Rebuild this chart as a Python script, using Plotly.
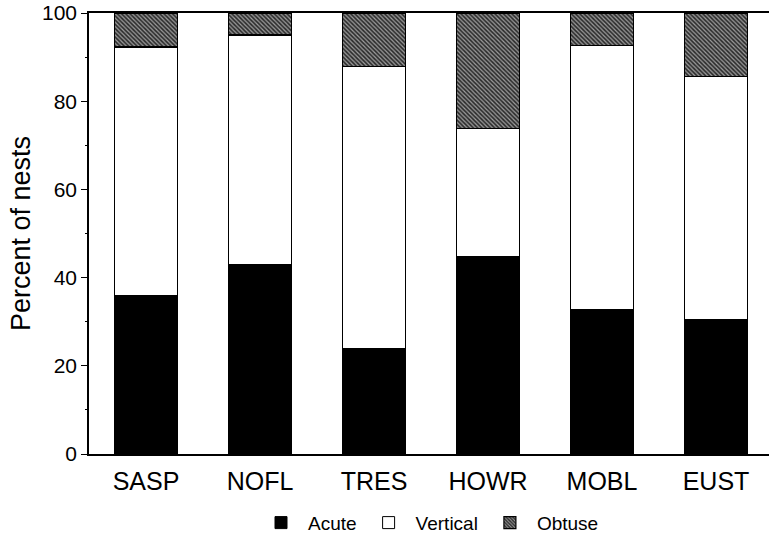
import plotly.graph_objects as go

species = ["SASP", "NOFL", "TRES", "HOWR", "MOBL", "EUST"]
acute = [36, 43, 24, 44.7, 32.8, 30.5]
vertical = [56.3, 52, 63.9, 29.1, 59.9, 55.1]
obtuse = [7.7, 5, 12.1, 26.2, 7.3, 14.4]
y_ticks = [0, 20, 40, 60, 80, 100]

xpos = list(range(len(species)))
bounds = [i - 0.5 for i in range(len(species) + 1)]
xr = [-0.5, 5.465]
font = "Liberation Sans, Arial, sans-serif"

fig = go.Figure()
fig.add_trace(go.Bar(x=xpos, y=acute, name="Acute", width=0.55,
                     marker=dict(color="black", line=dict(color="black", width=1))))
fig.add_trace(go.Bar(x=xpos, y=vertical, name="Vertical", width=0.55,
                     marker=dict(color="white", line=dict(color="black", width=1))))
fig.add_trace(go.Bar(x=xpos, y=obtuse, name="Obtuse", width=0.55,
                     marker=dict(color="#444444", line=dict(color="black", width=1.2),
                                 pattern=dict(shape="\\", bgcolor="#2e2e2e", fgcolor="#a0a0a0",
                                              size=3, solidity=0.4, fillmode="replace"))))

fig.update_layout(
    width=769, height=542,
    margin=dict(l=89, r=0, t=13, b=88),
    barmode="stack",
    plot_bgcolor="white", paper_bgcolor="white",
    font=dict(family=font, color="black"),
    showlegend=True,
    legend=dict(orientation="h", x=0.5, xanchor="center", y=-0.199, yanchor="bottom",
                font=dict(size=19, family=font), itemwidth=44, traceorder="normal"),
    xaxis=dict(range=xr, tickvals=xpos, ticktext=species, ticks="",
               showline=True, mirror=True, linecolor="black", linewidth=1.5,
               showgrid=False, zeroline=False, tickfont=dict(size=25),
               ticklabelstandoff=4, automargin=False),
    xaxis2=dict(overlaying="x", anchor="y", side="bottom", range=xr, tickvals=bounds,
                ticks="outside", ticklen=6, tickwidth=1, tickcolor="black",
                showticklabels=False, showline=False, showgrid=False, zeroline=False),
    xaxis3=dict(overlaying="x", anchor="y", side="bottom", range=xr, tickvals=bounds,
                ticks="inside", ticklen=6, tickwidth=1, tickcolor="black",
                showticklabels=False, showline=False, showgrid=False, zeroline=False),
    yaxis=dict(range=[0, 100], tickvals=y_ticks, ticks="outside", ticklen=6, tickwidth=1.2,
               tickcolor="black", showline=True, linecolor="black", linewidth=1.5,
               showgrid=False, zeroline=False, tickfont=dict(size=21), automargin=False,
               minor=dict(dtick=10, ticks="outside", ticklen=2, tickcolor="black", showgrid=False),
               title=dict(text="Percent of nests", font=dict(size=27), standoff=4)),
    yaxis2=dict(overlaying="y", anchor="x", side="left", range=[0, 100], tickvals=y_ticks,
                ticks="inside", ticklen=8, tickwidth=1.2, tickcolor="black",
                showticklabels=False, showline=False, showgrid=False, zeroline=False,
                minor=dict(dtick=10, ticks="inside", ticklen=4, tickcolor="black", showgrid=False)),
)

fig.write_html("out.html")
